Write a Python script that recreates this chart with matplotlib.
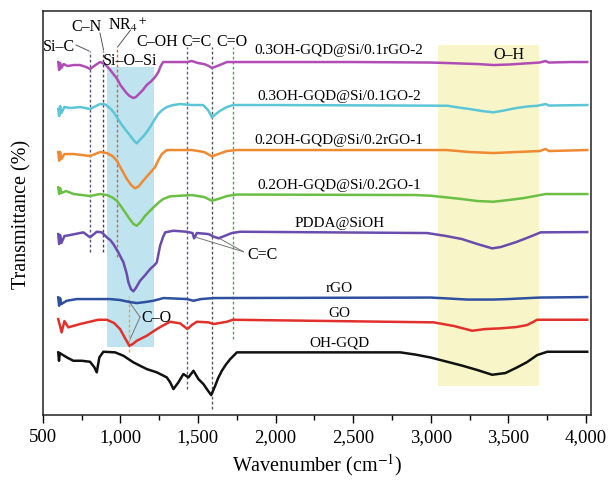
import numpy as np
import matplotlib
matplotlib.use("Agg")
from matplotlib import pyplot as plt
from matplotlib.ticker import MultipleLocator, FuncFormatter

plt.rcParams['font.family'] = ['Liberation Serif', 'DejaVu Serif']
plt.rcParams['mathtext.fontset'] = 'stix'

# offset-stacked FTIR spectra (wavenumber, cm-1 / transmittance, a.u.)
wn_rgo2 = [600, 606, 612, 620, 635, 660, 700, 740, 780, 805, 840, 870, 900, 913, 935, 955, 980, 1000,
           1020, 1040, 1060, 1084, 1100, 1120, 1145, 1170, 1200, 1224, 1245, 1260, 1276, 1350, 1428,
           1461, 1500, 1540, 1570, 1590, 1615, 1640, 1686, 1750, 2000, 2500, 3000, 3106, 3200, 3300,
           3403, 3500, 3600, 3700, 3739, 3760, 3900, 4007]
t_rgo2 = [353, 345, 352, 347, 351, 349, 350, 350, 348, 346, 350, 353, 351, 349, 345, 341, 336, 330,
          326, 322, 319, 317, 318, 321, 325, 330, 334, 338, 343, 349, 353, 353, 353,
          354, 352, 351, 349, 347, 348.5, 350, 353, 353, 353, 353, 352.5, 352, 351.5, 351,
          350, 350.5, 351.5, 352.5, 354, 352.5, 353, 353]

wn_go2 = [600, 606, 612, 620, 640, 680, 740, 805, 869, 902, 940, 965, 985, 1010, 1040, 1070, 1090,
          1106, 1125, 1150, 1170, 1192, 1215, 1243, 1270, 1299, 1340, 1385, 1461, 1533, 1565, 1590,
          1615, 1640, 1686, 1727, 2000, 3106, 3180, 3250, 3330, 3403, 3470, 3550, 3620, 3687,
          3739, 3760, 4007]
t_go2 = [306, 299, 309, 302, 308, 307, 308, 306, 311, 310.7, 306, 301, 296, 290, 284, 278, 274,
         271.7, 275, 279, 283, 288, 294, 301, 305, 308, 310, 311, 310, 310, 305, 297.7,
         301, 304, 308, 310, 310, 309.3, 307.5, 306, 304, 302.7, 304.5, 307, 308.5, 309.3,
         311, 309.5, 310]

wn_rgo1 = [600, 606, 612, 620, 640, 700, 805, 869, 913, 950, 977, 1010, 1042, 1070, 1095, 1120, 1147,
           1185, 1224, 1245, 1267, 1299, 1461, 1540, 1590, 1640, 1686, 1750, 3100, 3250, 3403,
           3550, 3700, 3739, 3760, 4007]
t_rgo1 = [263, 254.3, 263, 256, 261, 261, 259, 263, 262, 259, 254.3, 245, 236, 230, 226.7, 229, 234.3,
          241, 248, 255, 261, 265, 265, 263, 258.7, 261.5, 264, 265, 265, 263, 262,
          263, 264, 266, 264, 265]

wn_go1 = [600, 606, 612, 620, 650, 700, 805, 869, 913, 950, 977, 1005, 1031, 1060, 1085, 1106, 1130,
          1160, 1190, 1224, 1250, 1276, 1320, 1461, 1540, 1590, 1640, 1686, 1750, 2900, 3000,
          3200, 3300, 3403, 3500, 3600, 3739, 4007]
t_go1 = [227.7, 221, 227, 222, 224, 221, 219, 221, 220, 217.5, 214.3, 208.5, 202.7, 196, 191, 189.3, 193,
         199.3, 204, 209.3, 213, 216, 218.7, 220, 218, 214.3, 216.5, 219, 220.5, 220, 219.3,
         216, 214, 213.3, 215, 217, 221, 221]

wn_pdda = [600, 606, 612, 620, 640, 676, 762, 805, 848, 880, 913, 935, 955, 987, 1020, 1040, 1052,
           1068, 1084, 1100, 1127, 1160, 1192, 1220, 1235, 1256, 1275, 1289, 1342, 1428, 1465,
           1475, 1493, 1568, 1600, 1632, 1670, 1718, 1772, 2976, 3100, 3200, 3300, 3395, 3450,
           3550, 3650, 3707, 4007]
t_pdda = [181, 171, 180, 172, 179, 180, 182.7, 177.7, 183.3, 182.7, 177.7, 175, 171, 162.7, 152.7,
          142, 132.7, 126, 123.7, 127, 134.3, 140, 146, 150, 152.7, 169.3, 178, 182.7, 184.3, 183.3,
          182, 176.7, 182, 181, 178.5, 176.7, 179, 182, 183.3, 182, 179, 176, 171, 166.7, 168,
          173, 179, 182.7, 183]

wn_rgo = [600, 606, 612, 620, 655, 719, 934, 1000, 1060, 1106, 1160, 1213, 1278, 1428, 1471, 1520,
          1600, 3000, 3120, 3233, 3400, 3500, 3700, 4007]
t_rgo = [117.7, 109.3, 117, 111, 114.3, 116, 116, 115, 113, 112, 113, 114.3, 117, 116, 114.3, 116,
         117, 117.5, 116.5, 115.5, 115.5, 116, 117.5, 118]

wn_go = [600, 622, 640, 665, 740, 858, 913, 960, 998, 1030, 1058, 1080, 1106, 1170, 1235, 1280,
         1320, 1385, 1432, 1460, 1493, 1568, 1600, 1686, 1725, 3018, 3150, 3266, 3350, 3448,
         3550, 3620, 3685, 4007]
t_go = [96, 82.7, 94, 87.7, 91, 95.3, 95.3, 92, 86, 77, 69.3, 71, 74.3, 79.3, 86, 90,
        93.3, 91.7, 86, 90, 93.3, 92.7, 91, 93.3, 95.3, 92.7, 89, 84.3, 86, 86.7,
        88, 90, 95.3, 95.3]

wn_gqd = [600, 605, 610, 655, 697, 751, 805, 833, 848, 865, 891, 966, 1020, 1084, 1170, 1235, 1299,
          1320, 1342, 1374, 1406, 1439, 1471, 1503, 1535, 1557, 1585, 1611, 1630, 1654, 1680,
          1708, 1751, 2803, 2900, 3000, 3100, 3200, 3300, 3395, 3480, 3556, 3620, 3685, 3750, 4007]
t_gqd = [62.7, 54.3, 62, 57.7, 54.3, 54.3, 53.3, 47.7, 42.7, 57.7, 63.3, 62.7, 59.3, 52.7, 46, 42.7, 37.7,
         33, 26, 32.7, 41, 37.7, 44.3, 36, 31, 26, 20, 29.3, 37, 44.3, 50.5,
         56, 62.7, 62.7, 60.5, 57.5, 53.5, 49.5, 45, 40.3, 42, 47.7, 53, 60, 63.3, 63.3]

spectra = [
    (wn_rgo2, t_rgo2, '#b04db4', '0.3OH-GQD@Si/0.1rGO-2', 366),
    (wn_go2, t_go2, '#5cc6d6', '0.3OH-GQD@Si/0.1GO-2', 320),
    (wn_rgo1, t_rgo1, '#ef8a32', '0.2OH-GQD@Si/0.2rGO-1', 276),
    (wn_go1, t_go1, '#6cbf45', '0.2OH-GQD@Si/0.2GO-1', 231),
    (wn_pdda, t_pdda, '#6a4cad', 'PDDA@SiOH', 193),
    (wn_rgo, t_rgo, '#2f4f9f', 'rGO', 128),
    (wn_go, t_go, '#e2302c', 'GO', 103),
    (wn_gqd, t_gqd, '#111111', 'OH-GQD', 73),
]

# band positions and extent of the marker lines
band_wn = [805, 891, 981, 1058, 1428, 1590, 1725]
band_lo = [163, 163, 158, 63, 26, 6, 76]
band_hi = [364, 364, 366, 119, 368, 368, 368]
band_col = ['#555577', '#444444', '#d9603b', '#e8a040', '#5a5aa8', '#555555', '#5a9a5a']

fig = plt.figure(figsize=(6.10, 4.81), dpi=100)
ax = fig.add_axes([0.070, 0.135, 0.899, 0.840])

ax.axvspan(917, 1218, ymin=68 / 404, ymax=348 / 404, color='#bfe4ef', lw=0, zorder=0)
ax.axvspan(3045, 3698, ymin=29 / 404, ymax=370 / 404, color='#f8f6c9', lw=0, zorder=0)

for x, lo, hi, c in zip(band_wn, band_lo, band_hi, band_col):
    ax.plot([x, x], [lo, hi], ls=(0, (2, 1.6)), color=c, lw=1.0, zorder=1)

for wn, t, c, name, ty in spectra:
    ax.plot(wn, t, color=c, lw=1.8, zorder=3, solid_joinstyle='round')
    ax.text(2410, ty, name, ha='center', va='center', fontsize=11)

# band labels
fs = 11.5
ax.text(502, 369, 'Si–C', ha='left', va='center', fontsize=fs)
ax.plot([715, 799], [370, 364], color='#555555', lw=0.7)
ax.text(783, 389, 'C–N', ha='center', va='center', fontsize=fs)
ax.plot([869, 892], [382, 365], color='#555555', lw=0.7)
ax.text(1050, 391, r'NR$_4$$^+$', ha='center', va='center', fontsize=fs)
ax.plot([1066, 982], [385, 368], color='#555555', lw=0.7)
ax.text(1063, 355, 'Si–O–Si', ha='center', va='center', fontsize=fs)
ax.text(1240, 374, 'C–OH', ha='center', va='center', fontsize=fs)
ax.text(1493, 374, 'C=C', ha='center', va='center', fontsize=fs)
ax.text(1718, 374, 'C=O', ha='center', va='center', fontsize=fs)
ax.text(3503, 361, 'O–H', ha='center', va='center', fontsize=fs)

ax.text(1820, 161, 'C=C', ha='left', va='center', fontsize=fs)
ax.plot([1482, 1793], [178, 163.3], color='#777777', lw=0.7)
ax.plot([1622, 1793], [178, 163.3], color='#777777', lw=0.7)

ax.text(1135, 98, 'C–O', ha='left', va='center', fontsize=fs)
ax.plot([1127, 1052], [98, 114.3], color='#777777', lw=0.7)
ax.plot([1127, 1063], [98, 76], color='#777777', lw=0.7)

ax.set_xlim(500, 4032)
ax.set_ylim(0, 404)
ax.set_yticks([])
ax.xaxis.set_major_locator(MultipleLocator(500))
ax.xaxis.set_minor_locator(MultipleLocator(250))
ax.xaxis.set_major_formatter(FuncFormatter(lambda v, p: f'{int(v):,}'))
ax.tick_params(axis='x', which='major', length=6, width=1, labelsize=13.5)
ax.tick_params(axis='x', which='minor', length=3.5, width=1)
for s in ax.spines.values():
    s.set_linewidth(1.1)
    s.set_color('#222222')

ax.set_xlabel(r'Wavenumber (cm$^{-1}$)', fontsize=14.5, labelpad=4)
ax.set_ylabel('Transmittance (%)', fontsize=14.5, labelpad=8)

fig.savefig('out.png', dpi=100)
